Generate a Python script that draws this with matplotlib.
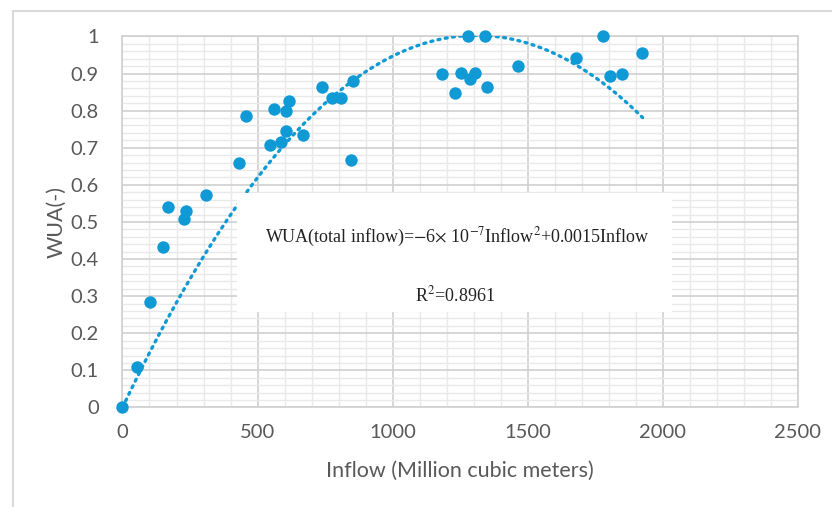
import numpy as np
import matplotlib
matplotlib.use("Agg")
import matplotlib.pyplot as plt
from matplotlib.patches import Rectangle
from matplotlib.ticker import MultipleLocator, FuncFormatter

# data
inflow = [0, 53, 102, 151, 170, 229, 235, 310, 433, 457, 546, 587, 604, 561, 604, 617,
          668, 739, 776, 809, 852, 847, 1183, 1229, 1254, 1285, 1305, 1278, 1343, 1349,
          1465, 1680, 1777, 1803, 1848, 1924]
wua = [0.0, 0.11, 0.283, 0.433, 0.541, 0.509, 0.529, 0.572, 0.66, 0.786, 0.707, 0.716,
       0.745, 0.804, 0.8, 0.826, 0.734, 0.863, 0.833, 0.833, 0.879, 0.666, 0.899, 0.847,
       0.901, 0.885, 0.901, 1.0, 1.0, 0.865, 0.921, 0.941, 1.0, 0.894, 0.899, 0.955]

# trendline (quadratic through origin)
trend_coef = [-5.85e-7, 0.001532, 0.0]
trend_end = 1925

eq_text = r"WUA(total inflow)=$-$6$\times$ 10$^{-7}$Inflow$^{2}$+0.0015Inflow"
r2_text = r"R$^{2}$=0.8961"

blue = "#0f9ad6"
grey_txt = "#595959"

plt.rcParams["mathtext.fontset"] = "stix"

fig = plt.figure(figsize=(8.32, 5.07), dpi=100)
ax = fig.add_axes([0.1472, 0.1963, 0.8119, 0.7318])

# outer chart frame
fig.add_artist(plt.Line2D([13/832, 13/832], [0, 1 - 11/507], transform=fig.transFigure,
                          color="#d9d9d9", lw=1.5))
fig.add_artist(plt.Line2D([13/832, 1], [1 - 11/507, 1 - 11/507], transform=fig.transFigure,
                          color="#d9d9d9", lw=1.5))

ax.set_xlim(0, 2500)
ax.set_ylim(0, 1)
ax.xaxis.set_major_locator(MultipleLocator(500))
ax.xaxis.set_minor_locator(MultipleLocator(100))
ax.yaxis.set_major_locator(MultipleLocator(0.1))
ax.yaxis.set_minor_locator(MultipleLocator(0.02))
ax.yaxis.set_major_formatter(FuncFormatter(lambda v, p: f"{v:.1f}".rstrip("0").rstrip(".") if v else "0"))

ax.grid(which="major", color="#cfcfcf", lw=1.2, zorder=0)
ax.grid(which="minor", color="#e9e9e9", lw=1.0, zorder=0)
ax.set_axisbelow(True)
for s in ax.spines.values():
    s.set_color("#d0d0d0")
    s.set_linewidth(1.2)

ax.tick_params(which="both", length=0)
ax.tick_params(axis="y", pad=17, labelsize=14.5, labelcolor=grey_txt)
ax.tick_params(axis="x", pad=12, labelsize=14.5, labelcolor=grey_txt)
for lab in ax.get_xticklabels() + ax.get_yticklabels():
    lab.set_family("Lato")

# trendline
tx = np.linspace(0, trend_end, 300)
ax.plot(tx, np.polyval(trend_coef, tx), ls=(0, (0.6, 1.6)), lw=2.4, color=blue,
        dash_capstyle="round", zorder=3)

ax.scatter(inflow, wua, s=80, color=blue, zorder=4, clip_on=False, linewidths=0)

# white equation box
ax.add_patch(Rectangle((424, 0.257), 2034 - 424, 0.578 - 0.257, facecolor="white",
                       edgecolor="none", zorder=5))
ax.text(1238, 0.457, eq_text, ha="center", va="center", fontsize=13,
        family="Liberation Serif", zorder=6, color="#222222")
ax.text(1232, 0.303, r2_text, ha="center", va="center", fontsize=13,
        family="Liberation Serif", zorder=6, color="#222222")

ax.set_xlabel("Inflow (Million cubic meters)", fontsize=15.5, color=grey_txt,
              family="Lato", labelpad=14)
ax.set_ylabel("WUA(-)", fontsize=15.5, color=grey_txt, family="Lato", labelpad=3)

fig.savefig("out.png", dpi=100)
